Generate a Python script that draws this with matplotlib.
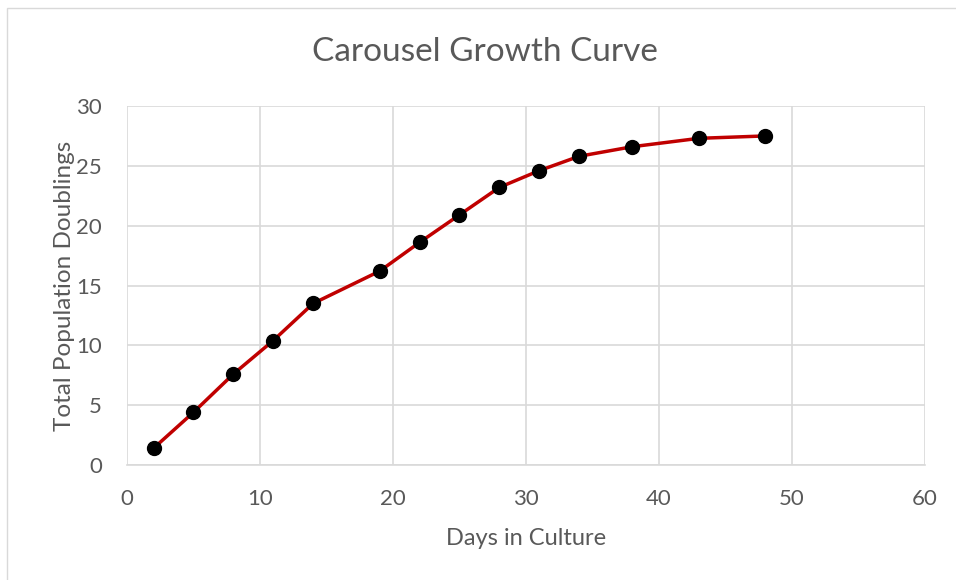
import matplotlib
matplotlib.use("Agg")
import matplotlib.pyplot as plt
from matplotlib.patches import Rectangle

days = [2, 5, 8, 11, 14, 19, 22, 25, 28, 31, 34, 38, 43, 48]
doublings = [1.4, 4.4, 7.6, 10.4, 13.5, 16.2, 18.6, 20.9, 23.2, 24.6, 25.8, 26.6, 27.3, 27.5]

plt.rcParams['font.family'] = ['Lato', 'DejaVu Sans']
txt = '#595959'

fig = plt.figure(figsize=(9.56, 5.8), dpi=100)
ax = fig.add_axes([0.1328, 0.1983, 0.8347, 0.6189])

# chart border
top = 1 - 8 / 580
fig.patches.append(Rectangle((7 / 956, -0.02), 1.0, top + 0.02,
                             transform=fig.transFigure, fill=False,
                             edgecolor='#d9d9d9', linewidth=1))

ax.plot(days, doublings, color='#c00000', linewidth=2.5, marker='o',
        markersize=10, markerfacecolor='black', markeredgecolor='black', zorder=3)

ax.set_xlim(0, 60)
ax.set_ylim(0, 30)
ax.set_xticks(range(0, 61, 10))
ax.set_yticks(range(0, 31, 5))
ax.grid(True, color='#d9d9d9', linewidth=1.2)
ax.set_axisbelow(True)
for s in ['top', 'right', 'left']:
    ax.spines[s].set_visible(False)
ax.spines['bottom'].set_color('#d9d9d9')
ax.spines['bottom'].set_linewidth(1.2)
ax.tick_params(axis='x', length=0, labelsize=16, labelcolor=txt, pad=17)
ax.tick_params(axis='y', length=0, labelsize=16, labelcolor=txt, pad=18)

fig.text(0.507, 1 - 52 / 580, 'Carousel Growth Curve', fontsize=24, color=txt,
         ha='center', va='center')
ax.set_xlabel('Days in Culture', fontsize=17, color=txt, labelpad=14)
ax.set_ylabel('Total Population Doublings', fontsize=17.5, color=txt, labelpad=1)

fig.savefig('out.png', dpi=100)
